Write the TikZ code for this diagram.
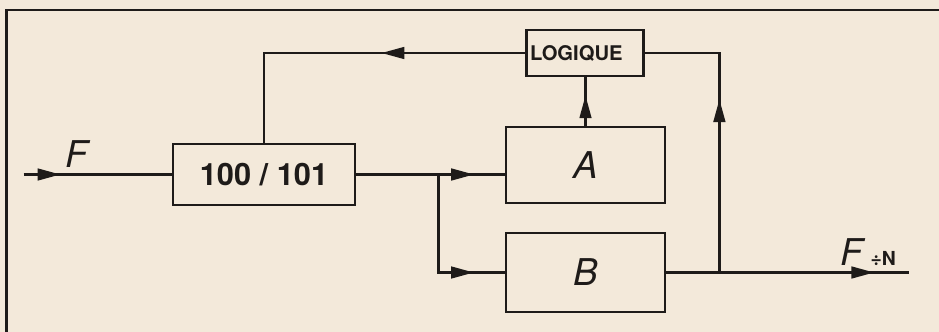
\documentclass[tikz,border=0pt]{standalone}
\usepackage{fontspec}
\setmainfont{TeX Gyre Heros}
\usetikzlibrary{arrows.meta,positioning,decorations.markings}
\definecolor{paper}{HTML}{F3E9DA}
\definecolor{ink}{HTML}{1E1B19}
\tikzset{
  box/.style={rectangle,draw=ink,line width=1.6pt,inner sep=2pt,
              minimum width=#1},
  sig/.style={line width=1.7pt,draw=ink},
  marr/.style={postaction={decorate},
               decoration={markings,
                 mark=at position #1 with {\arrow{Triangle[length=0.46cm,width=0.23cm]}}}},
  frame/.style={line width=1.4pt,draw=ink},
  blab/.style={font=\fontsize{21}{24}\selectfont\itshape,text=ink},
}

\begin{document}
\begin{tikzpicture}

  %% ── paper and frame ─────────────────────────────────────────────────────
  \fill[paper] (0,0) rectangle (18.78,-6.64);
  \useasboundingbox (0,0) rectangle (18.78,-6.64);
  \draw[frame] (0.13,-6.70) |- (18.85,-0.20);

  %% ── blocks ──────────────────────────────────────────────────────────────
  \node[box=3.64cm,minimum height=1.22cm,
        font=\fontsize{17.5}{20}\selectfont\bfseries,text=ink]
        (div) at (5.28,-3.49) {100 / 101};
  \node[box=2.32cm,minimum height=0.92cm,
        font=\fontsize{11.5}{13}\selectfont\bfseries,text=ink,
        text width=2.2cm,align=left]
        (logic) at (11.70,-1.06) {LOGIQUE};
  \node[box=3.18cm,minimum height=1.52cm,blab] (blkA) at (11.71,-3.30) {A};
  \node[box=3.18cm,minimum height=1.58cm,blab] (blkB) at (11.71,-5.45) {B};

  %% ── free ends ───────────────────────────────────────────────────────────
  \coordinate[left=2.96cm of div.west]   (fin);
  \coordinate[right=1.64cm of div.east]  (split);
  \coordinate[right=1.06cm of blkB.east] (tap);
  \coordinate[right=4.86cm of blkB.east] (fout);

  %% ── connectors ──────────────────────────────────────────────────────────
  \draw[sig,marr=0.25] (fin) -- (div.west)
    node[pos=0.36,above=0pt,blab]{F};
  \draw[sig,marr=0.795] (div.east) -- (blkA.west |- div.east);
  \draw[sig,marr=0.814] (split) |- (blkB.west);
  \draw[sig,marr=0.41] (logic.west) -| (div.north);
  \draw[sig,marr=0.63] (blkA.north) -- (blkA.north |- logic.south);
  \draw[sig,marr=0.59] (tap) |- (logic.east);
  \draw[sig,marr=0.856] (blkB.east) -- (fout)
    node[pos=0.83,above=0pt,text=ink]
    {{\fontsize{21}{24}\selectfont\itshape F}\hspace{0.15cm}{\fontsize{11}{13}\selectfont\bfseries ÷N}};

\end{tikzpicture}
\end{document}
